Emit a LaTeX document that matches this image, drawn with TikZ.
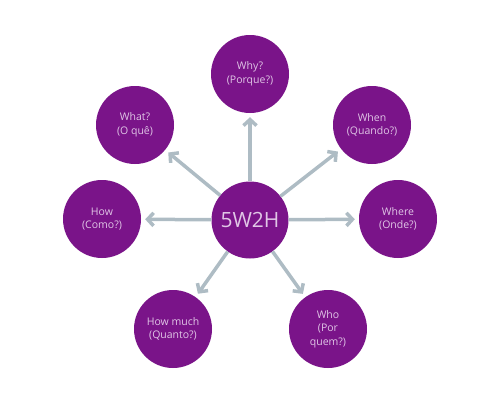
\documentclass[tikz,border=0pt]{standalone}
\usepackage{fontspec}
\setmainfont{Open Sans}
\usepackage{xcolor}
\usepackage{tikz}
\usetikzlibrary{arrows.meta, positioning, calc}

\definecolor{wpurple}{RGB}{122,20,137}
\definecolor{wtext}{RGB}{224,198,230}
\definecolor{wgray}{RGB}{174,188,196}

\begin{document}
\begin{tikzpicture}[
    x=1pt, y=-1pt,
    topic/.style={circle, fill=wpurple, minimum size=78pt, inner sep=0pt,
                  text=wtext, font=\fontsize{10.5}{13.5}\selectfont, align=center},
    hub/.style={topic, minimum size=77pt, font=\fontsize{21}{24}\selectfont},
    arrow/.style={-{Straight Barb[length=6pt, width=13pt]}, line width=3.5pt,
                  draw=wgray, shorten >=4pt}
]
\useasboundingbox (0,0) rectangle (500,400);

\node[hub]   (core)  at (250,220) {5W2H};
\node[topic] (why)   at (250,74)  {Why?\\(Porque?)};
\node[topic] (what)  at (135,125) {What?\\(O quê)};
\node[topic] (when)  at (372,125) {When\\(Quando?)};
\node[topic] (how)   at (102,219) {How\\(Como?)};
\node[topic] (where) at (398,219) {Where\\(Onde?)};
\node[topic] (much)  at (173,329) {How much\\(Quanto?)};
\node[topic] (who)   at (328,329) {Who\\(Por\\quem?)};

% spokes from the hub
\foreach \t in {why, what, when, how, where, much, who}
  \draw[arrow] (core) -- (\t);

\end{tikzpicture}
\end{document}
